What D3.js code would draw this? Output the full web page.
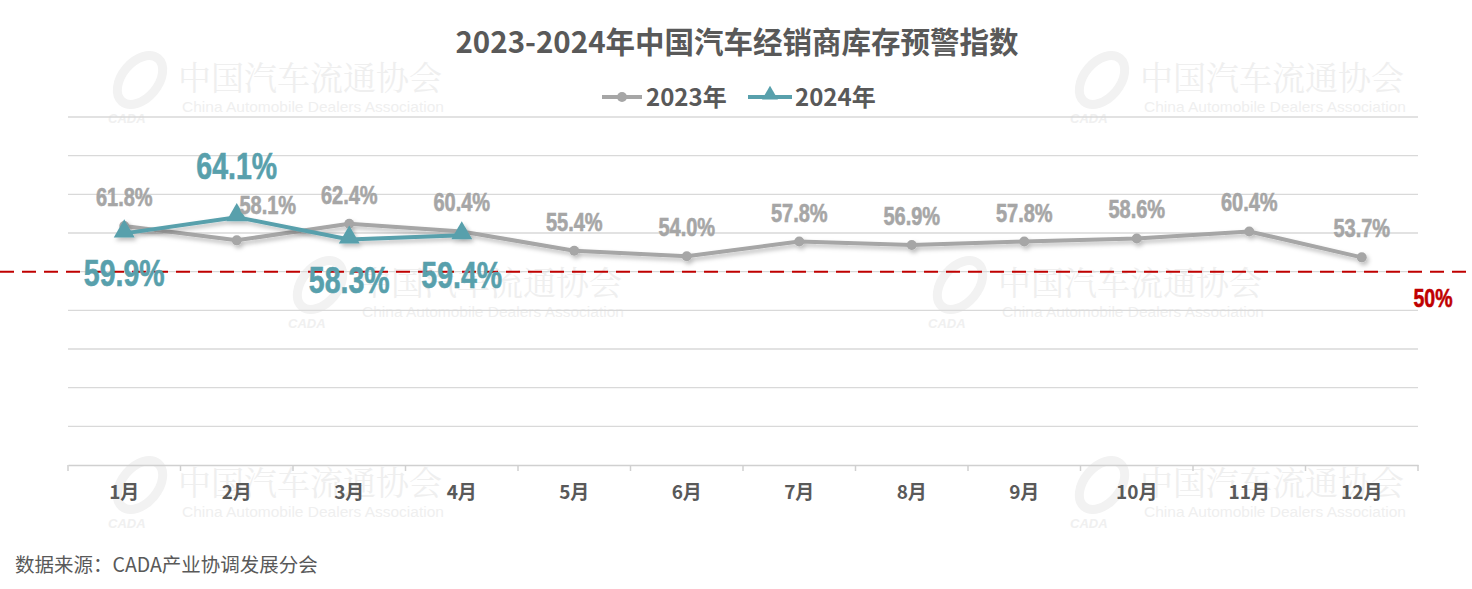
<!DOCTYPE html>
<html><head><meta charset="utf-8">
<script src="https://cdn.jsdelivr.net/npm/d3@7/dist/d3.min.js"></script>
<style>
body{margin:0;background:#fff;}
svg{display:block;font-family:"Noto Sans CJK SC","Liberation Sans",Arial,sans-serif;}
.num{font-family:"Liberation Sans",Arial,sans-serif;font-weight:bold;}
</style></head><body>
<script>
const months = ["1月","2月","3月","4月","5月","6月","7月","8月","9月","10月","11月","12月"];
const values2023 = [61.8,58.1,62.4,60.4,55.4,54.0,57.8,56.9,57.8,58.6,60.4,53.7];
const values2024 = [59.9,64.1,58.3,59.4];
const yTicks = [0,10,20,30,40,50,60,70,80,90];
const warnLine = 50;
const seriesNames = ["2023年","2024年"];

const W=1472,H=589;
const svg=d3.select("body").append("svg").attr("width",W).attr("height",H);
const defs=svg.append("defs");
const f=defs.append("filter").attr("id","sh").attr("x","-10%").attr("y","-50%").attr("width","120%").attr("height","200%");
f.append("feDropShadow").attr("dx",2).attr("dy",3).attr("stdDeviation",2).attr("flood-color","#000").attr("flood-opacity",0.25);

// watermarks
const wm=[[100,50],[1062,50],[280,255],[920,255],[100,455],[1062,455]];
const wg=svg.append("g");
wm.forEach(([x,y])=>{
  const g=wg.append("g").attr("transform",`translate(${x},${y})`);
  g.append("ellipse").attr("cx",40).attr("cy",30).attr("rx",28).attr("ry",18).attr("fill","none").attr("stroke","#f2f2f2").attr("stroke-width",9).attr("transform","rotate(-50,40,30)");
  g.append("text").attr("x",8).attr("y",73).attr("font-size",13).attr("font-weight","bold").attr("font-style","italic").attr("fill","#f0f0f0").attr("font-family","'Liberation Sans',Arial").text("CADA");
  g.append("text").attr("x",78).attr("y",40).attr("font-size",33).attr("font-family","'Noto Serif CJK SC','Noto Sans CJK SC',serif").attr("fill","#efefef").text("中国汽车流通协会");
  g.append("text").attr("x",82).attr("y",62).attr("font-size",15.5).attr("fill","#efefef").attr("font-family","'Liberation Sans',Arial").text("China Automobile Dealers Association");
});

const x=d3.scaleBand().domain(months).range([68,1418]);
const y=d3.scaleLinear().domain([0,90]).range([465,117]);
const cx=d=>x(d)+x.bandwidth()/2;

// grid
svg.append("g").selectAll("line").data(yTicks.slice(1)).join("line")
 .attr("x1",68).attr("x2",1418).attr("y1",d=>y(d)).attr("y2",d=>y(d))
 .attr("stroke","#d9d9d9").attr("stroke-width",1.3);

// x axis
const xa=svg.append("g").attr("transform","translate(0,465)")
 .call(d3.axisBottom(x).tickSize(0).tickPadding(21));
xa.select(".domain").attr("stroke","#d0d0d0").attr("stroke-width",1.5);
xa.selectAll("text").attr("font-size",19).attr("font-weight","bold").attr("fill","#595959").attr("font-family","'Noto Sans CJK SC',sans-serif");
const bounds=months.map(m=>x(m)).concat([x(months[11])+x.bandwidth()]);
xa.append("g").selectAll("line").data(bounds).join("line")
 .attr("x1",d=>d).attr("x2",d=>d).attr("y1",0).attr("y2",6).attr("stroke","#d0d0d0").attr("stroke-width",1.5);

// warning line
svg.append("line").attr("x1",0).attr("x2",W).attr("y1",y(warnLine)).attr("y2",y(warnLine))
 .attr("stroke","#c00000").attr("stroke-width",2).attr("stroke-dasharray","14,8");

function narrow(sel, px, py, size, sx, color, txt){
  sel.append("g").attr("transform",`translate(${px},${py}) scale(${sx},1)`)
   .append("text").attr("class","num").attr("text-anchor","middle").attr("font-size",size).attr("fill",color)
   .attr("stroke",color).attr("stroke-width",0.6).text(txt);
}
narrow(svg,1433,y(warnLine)+35,26,0.75,"#c00000",warnLine+"%");

const line=d3.line().x((d,i)=>cx(months[i])).y(d=>y(d));
const gray="#a6a6a6", teal="#58a0ac";

// 2023
const g23=svg.append("g").attr("filter","url(#sh)");
g23.append("path").datum(values2023).attr("d",line).attr("fill","none").attr("stroke",gray).attr("stroke-width",4).attr("stroke-linejoin","round");
g23.selectAll("circle").data(values2023).join("circle").attr("cx",(d,i)=>cx(months[i])).attr("cy",d=>y(d)).attr("r",5).attr("fill",gray);

// 2024
const g24=svg.append("g").attr("filter","url(#sh)");
g24.append("path").datum(values2024).attr("d",line).attr("fill","none").attr("stroke",teal).attr("stroke-width",4).attr("stroke-linejoin","round");
const tri=d3.symbol().type(d3.symbolTriangle).size(190);
g24.selectAll("path.m").data(values2024).join("path").attr("class","m").attr("d",tri)
 .attr("transform",(d,i)=>`translate(${cx(months[i])},${y(d)-2})`).attr("fill",teal);

// labels 2023
const l23=svg.append("g");
values2023.forEach((d,i)=>{
  narrow(l23, cx(months[i])+(i===1?31:0), y(d)-(i===1?26:20), 25, 0.8, gray, d.toFixed(1)+"%");
});
// labels 2024
const l24=svg.append("g");
values2024.forEach((d,i)=>{
  narrow(l24, cx(months[i]), i===1?y(d)-38:y(d)+53, 37, 0.77, teal, d.toFixed(1)+"%");
});

// title
svg.append("text").attr("x",737).attr("y",53).attr("text-anchor","middle").attr("font-size",29.5).attr("font-weight","bold")
 .attr("fill","#595959").text("2023-2024年中国汽车经销商库存预警指数");

// legend
const lg=svg.append("g");
lg.append("line").attr("x1",602).attr("x2",642).attr("y1",97).attr("y2",97).attr("stroke",gray).attr("stroke-width",4);
lg.append("circle").attr("cx",622).attr("cy",97).attr("r",5).attr("fill",gray);
lg.append("text").attr("x",646).attr("y",106).attr("font-size",24).attr("font-weight","bold").attr("fill","#595959").text(seriesNames[0]);
lg.append("line").attr("x1",748).attr("x2",792).attr("y1",97).attr("y2",97).attr("stroke",teal).attr("stroke-width",4);
lg.append("path").attr("d",d3.symbol().type(d3.symbolTriangle).size(110)).attr("transform","translate(770,95)").attr("fill",teal);
lg.append("text").attr("x",795).attr("y",106).attr("font-size",24).attr("font-weight","bold").attr("fill","#595959").text(seriesNames[1]);

// source
svg.append("text").attr("x",15).attr("y",572).attr("font-size",19.5).attr("fill","#595959")
 .text("数据来源：CADA产业协调发展分会");
</script>
</body></html>
